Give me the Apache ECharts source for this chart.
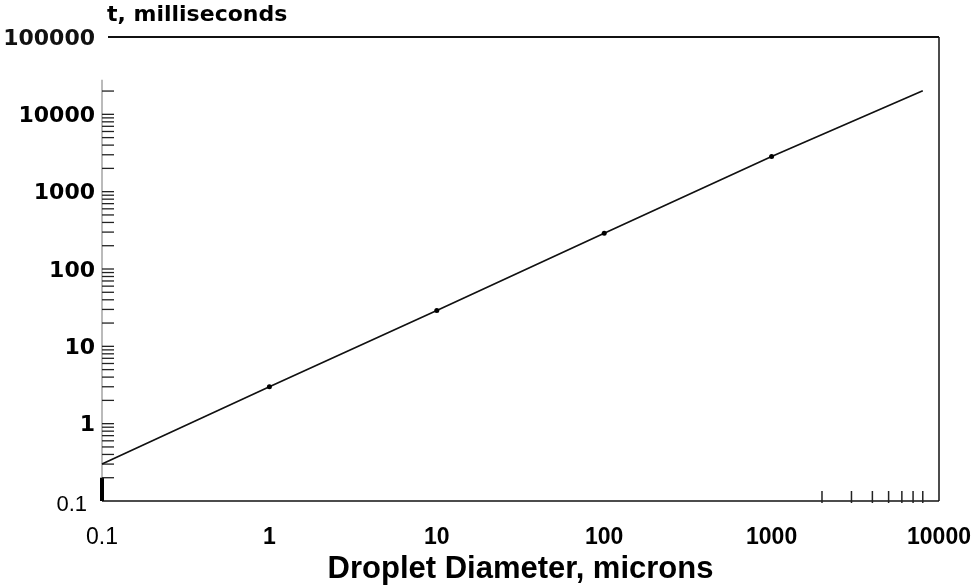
<!DOCTYPE html>
<html>
<head>
<meta charset="utf-8">
<script src="https://cdn.jsdelivr.net/npm/echarts@6/dist/echarts.min.js"></script>
<style>
html,body{margin:0;padding:0;background:#fff;}
#chart{width:980px;height:585px;}
</style>
</head>
<body>
<div id="chart"></div>
<script>
// ---- data ----
const diameters = [0.1, 1, 10, 100, 1000, 8000];          // microns
const times     = [0.3, 3, 29, 290, 2850, 20200];          // milliseconds
const markedDiameters = [1, 10, 100, 1000];                // points drawn with a dot

const xTickLabels = ['0.1', '1', '10', '100', '1000', '10000'];
const yTickLabels = ['0.1', '1', '10', '100', '1000', '10000', '100000'];

const yDecades = [0.1, 1, 10, 100, 1000];
const yMultipliers = [1, 2, 3, 4, 5, 6, 7, 8, 9];
const yExtraTicks = [10000, 20000];
const xBottomTicks = [2000, 3000, 4000, 5000, 6000, 7000, 8000];

const xMin = 0.1, xMax = 10000;
const yMin = 0.1, yMax = 100000;
const leftSpineTop = 28000;
const thickSpineTop = 0.2;

// ---- derived ----
const yTicks = [];
yDecades.forEach(d => yMultipliers.forEach(m => { if (d * m > yMin) yTicks.push(+(d * m).toPrecision(6)); }));
yExtraTicks.forEach(v => yTicks.push(v));

const lineData = diameters.map((d, i) => [d, times[i]]);

function idx(v) { return Math.round(Math.log10(v)) + 1; }

const chart = echarts.init(document.getElementById('chart'), null, { renderer: 'canvas' });

const option = {
  animation: false,
  backgroundColor: '#ffffff',
  grid: { left: 102, right: 41, top: 37, bottom: 84, containLabel: false, outerBoundsMode: 'none' },
  xAxis: {
    type: 'log', logBase: 10, min: xMin, max: xMax, splitNumber: 5,
    axisLine: { show: false }, axisTick: { show: false }, splitLine: { show: false }, minorTick: { show: false },
    axisLabel: {
      showMinLabel: true, showMaxLabel: true, margin: 25,
      formatter: v => {
        const t = xTickLabels[idx(v)];
        if (t === '0.1') return '{r|' + t + '}';
        if (t === '10000') return '{bb|' + t + '}';
        return '{b|' + t + '}';
      },
      rich: {
        r:  { fontFamily: 'Liberation Sans', fontSize: 23, fontWeight: 'normal', color: '#000' },
        b:  { fontFamily: 'Liberation Sans', fontSize: 23, fontWeight: 'bold', color: '#000' },
        bb: { fontFamily: 'Liberation Sans', fontSize: 23, fontWeight: 'bold', color: '#000' }
      }
    },
    name: 'Droplet Diameter, microns',
    nameLocation: 'middle', nameGap: 65,
    nameTextStyle: { fontFamily: 'Liberation Sans', fontSize: 31, fontWeight: 'bold', color: '#000', verticalAlign: 'middle' }
  },
  yAxis: {
    type: 'log', logBase: 10, min: yMin, max: yMax, splitNumber: 6,
    axisLine: { show: false }, axisTick: { show: false }, splitLine: { show: false }, minorTick: { show: false },
    axisLabel: {
      showMinLabel: true, showMaxLabel: true, margin: 7,
      formatter: v => {
        const t = yTickLabels[idx(v)];
        if (t === '0.1') return '{r|' + t + '}';
        if (t === '100000') return '{big|' + t + '}';
        return '{b|' + t + '}';
      },
      rich: {
        r:   { fontFamily: 'Liberation Sans', fontSize: 22, fontWeight: 'normal', color: '#000', padding: [8, 8, 0, 0] },
        b:   { fontFamily: 'DejaVu Sans', fontSize: 22, fontWeight: 'bold', color: '#000', padding: [4, 0, 0, 0] },
        big: { fontFamily: 'DejaVu Sans', fontSize: 22, fontWeight: 'bold', color: '#111', padding: [5, 0, 0, 0] }
      }
    },
    name: 't, milliseconds',
    nameLocation: 'end', nameGap: 11,
    nameTextStyle: { fontFamily: 'DejaVu Sans', fontSize: 22, fontWeight: 'bold', color: '#000', align: 'left', verticalAlign: 'bottom', padding: [0, 0, 0, 5] }
  },
  series: [
    {
      type: 'custom', name: 'frame', silent: true, z: 1,
      data: [[xMin, yMin]],
      renderItem: (params, api) => {
        const bl = api.coord([xMin, yMin]);
        const br = api.coord([xMax, yMin]);
        const tr = api.coord([xMax, yMax]);
        const tl = api.coord([xMin, yMax]);
        const spTop = api.coord([xMin, leftSpineTop]);
        const thickTop = api.coord([xMin, thickSpineTop]);
        return {
          type: 'group',
          children: [
            { type: 'line', shape: { x1: bl[0], y1: bl[1], x2: br[0], y2: br[1] }, style: { stroke: '#111', lineWidth: 1.5 } },
            { type: 'line', shape: { x1: br[0], y1: br[1], x2: tr[0], y2: tr[1] }, style: { stroke: '#111', lineWidth: 1.5 } },
            { type: 'line', shape: { x1: tl[0] + 6, y1: tl[1], x2: tr[0], y2: tr[1] }, style: { stroke: '#111', lineWidth: 2.2 } },
            { type: 'line', shape: { x1: bl[0], y1: bl[1], x2: spTop[0], y2: spTop[1] }, style: { stroke: '#777', lineWidth: 1 } },
            { type: 'line', shape: { x1: bl[0], y1: bl[1], x2: thickTop[0], y2: thickTop[1] }, style: { stroke: '#000', lineWidth: 4 } }
          ]
        };
      }
    },
    {
      type: 'custom', name: 'yTicks', silent: true, z: 2,
      data: yTicks.map(v => [xMin, v]),
      renderItem: (params, api) => {
        const p = api.coord([api.value(0), api.value(1)]);
        return { type: 'line', shape: { x1: p[0], y1: p[1], x2: p[0] + 12, y2: p[1] }, style: { stroke: '#222', lineWidth: 1.3 } };
      }
    },
    {
      type: 'custom', name: 'xTicks', silent: true, z: 2,
      data: xBottomTicks.map(v => [v, yMin]),
      renderItem: (params, api) => {
        const p = api.coord([api.value(0), api.value(1)]);
        return { type: 'line', shape: { x1: p[0], y1: p[1] + 2, x2: p[0], y2: p[1] - 10 }, style: { stroke: '#222', lineWidth: 1.5 } };
      }
    },
    {
      type: 'line', name: 't', z: 3,
      data: lineData,
      showSymbol: true, symbol: 'circle',
      symbolSize: v => markedDiameters.includes(v[0]) ? 5 : 0,
      lineStyle: { color: '#111', width: 1.7 },
      itemStyle: { color: '#000' }
    }
  ]
};
chart.setOption(option);
</script>
</body>
</html>
